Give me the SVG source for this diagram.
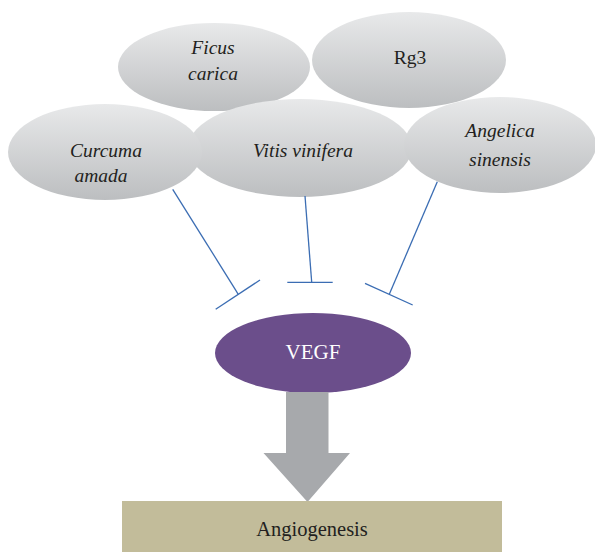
<svg xmlns="http://www.w3.org/2000/svg" width="595" height="552" viewBox="0 0 595 552">
<defs>
<linearGradient id="g" x1="0" y1="0" x2="0" y2="1">
<stop offset="0" stop-color="#e8e9ea"/>
<stop offset="1" stop-color="#bcbec0"/>
</linearGradient>
</defs>
<style>
.n{fill:url(#g);}
.t{font-family:"Liberation Serif",serif;font-size:19.5px;fill:#231f20;text-anchor:middle;}
.i{font-style:italic;}
.c line{stroke:#3b6db3;stroke-width:1.3;fill:none;}
</style>
<rect width="595" height="552" fill="#ffffff"/>
<g id="ficus"><ellipse class="n" cx="214" cy="67" rx="96" ry="44"/><text class="t i" x="213" y="54">Ficus</text><text class="t i" x="213" y="80">carica</text></g>
<g id="rg3"><ellipse class="n" cx="409" cy="60" rx="97" ry="48"/><text class="t" x="410" y="64">Rg3</text></g>
<g id="vitis"><ellipse class="n" cx="300" cy="148" rx="112" ry="49"/><text class="t i" x="303" y="157">Vitis vinifera</text></g>
<g id="curcuma"><ellipse class="n" cx="105" cy="152" rx="97" ry="48"/><text class="t i" x="106" y="157">Curcuma</text><text class="t i" x="101" y="182">amada</text></g>
<g id="angelica"><ellipse class="n" cx="500" cy="145" rx="96" ry="48"/><text class="t i" x="500" y="137">Angelica</text><text class="t i" x="500" y="166">sinensis</text></g>
<g class="c" id="connectors">
<line x1="172.7" y1="189.3" x2="238.3" y2="294.3"/>
<line x1="215.7" y1="309.3" x2="260" y2="280"/>
<line x1="305" y1="196" x2="311.7" y2="282.3"/>
<line x1="287.3" y1="282.3" x2="332.7" y2="282.3"/>
<line x1="437.3" y1="181.7" x2="389.3" y2="294.3"/>
<line x1="365" y1="283.3" x2="412.7" y2="305"/>
</g>
<g id="vegf"><ellipse cx="313" cy="353" rx="98" ry="40" fill="#6b4e8b"/><text class="t" x="313" y="359" style="fill:#ffffff;font-size:21px">VEGF</text></g>
<g id="arrow"><polygon points="286,392 328.5,392 328.5,453 350,453 307.5,502 263.5,453 286,453" fill="#a7a9ac"/></g>
<g id="angiogenesis"><rect x="122" y="501" width="380" height="51" fill="#c2bc9a"/><text class="t" x="312" y="536" style="font-size:20.5px">Angiogenesis</text></g>
</svg>
